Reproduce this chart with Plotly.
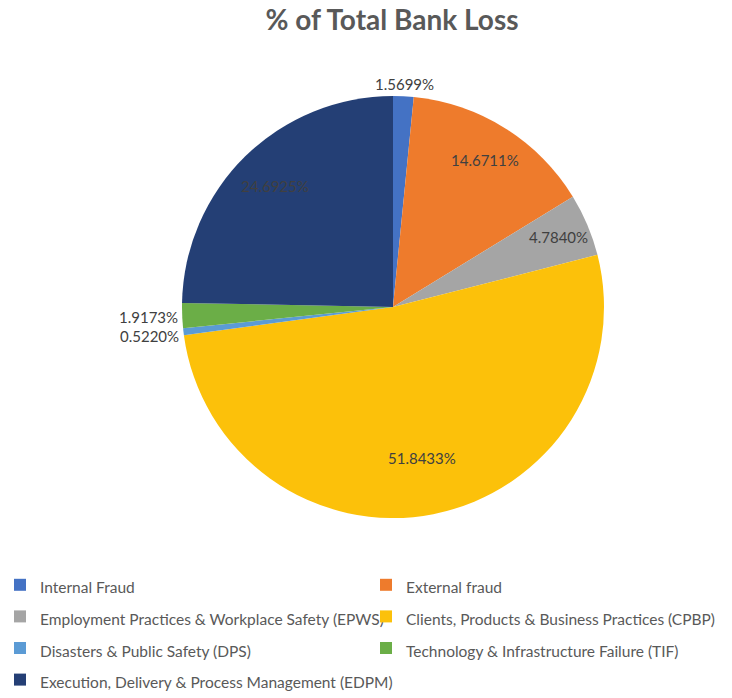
import math
import plotly.graph_objects as go

categories = [
    "Internal Fraud",
    "External fraud",
    "Employment Practices & Workplace Safety (EPWS)",
    "Clients, Products & Business Practices (CPBP)",
    "Disasters & Public Safety (DPS)",
    "Technology & Infrastructure Failure (TIF)",
    "Execution, Delivery & Process Management (EDPM)",
]
loss_pct = [1.5699, 14.6711, 4.7840, 51.8433, 0.5220, 1.9173, 24.6925]
colors = ["#4472C4", "#EE7B2C", "#A5A5A5", "#FCC10A", "#5B9BD5", "#6BAE47", "#243F75"]
# radial placement of each value label, as a fraction of the pie radius
label_radius = [1.06, 0.82, 0.85, 0.73, 1.16, 1.16, 0.80]

W, H = 732, 698
FONT = "Lato, 'Open Sans', sans-serif"
LABEL_COLOR = "#404040"

# pie geometry in pixels (centre and radius)
CX, CY, R = 393, 307, 211

# legend labels drawn small inside a taller legend font so rows get wider spacing
legend_names = [f"<span style='font-size:15.5px'>{c}</span>" for c in categories]

fig = go.Figure(
    go.Pie(
        labels=legend_names,
        values=loss_pct,
        sort=False,
        direction="clockwise",
        rotation=0,
        marker=dict(colors=colors, line=dict(width=0)),
        textinfo="none",
        hoverinfo="label+percent",
        domain=dict(x=[(CX - R) / W, (CX + R) / W], y=[1 - (CY + R) / H, 1 - (CY - R) / H]),
        showlegend=True,
    )
)

# value labels placed at the middle angle of each slice
total = sum(loss_pct)
cum = 0.0
for v, rf in zip(loss_pct, label_radius):
    mid = (cum + v / 2) / total * 2 * math.pi
    cum += v
    px = CX + rf * R * math.sin(mid)
    py = CY - rf * R * math.cos(mid)
    fig.add_annotation(
        x=px / W,
        y=1 - py / H,
        xref="paper",
        yref="paper",
        text=f"{v:.4f}%",
        showarrow=False,
        xanchor="center",
        yanchor="middle",
        font=dict(family=FONT, size=15, color=LABEL_COLOR),
    )

fig.update_layout(
    width=W,
    height=H,
    margin=dict(l=0, r=0, t=0, b=0, autoexpand=False),
    paper_bgcolor="white",
    plot_bgcolor="white",
    title=dict(
        text="<b>% of Total Bank Loss</b>",
        x=392 / W,
        xanchor="center",
        y=1 - 20 / H,
        yanchor="middle",
        yref="container",
        font=dict(family=FONT, size=28, color="#595959"),
    ),
    legend=dict(
        orientation="h",
        x=0,
        xanchor="left",
        y=1 - 564 / H,
        yanchor="top",
        entrywidth=0.5,
        entrywidthmode="fraction",
        font=dict(family=FONT, size=22, color="#595959"),
        itemwidth=30,
        traceorder="normal",
    ),
)

fig.write_html("out.html")
